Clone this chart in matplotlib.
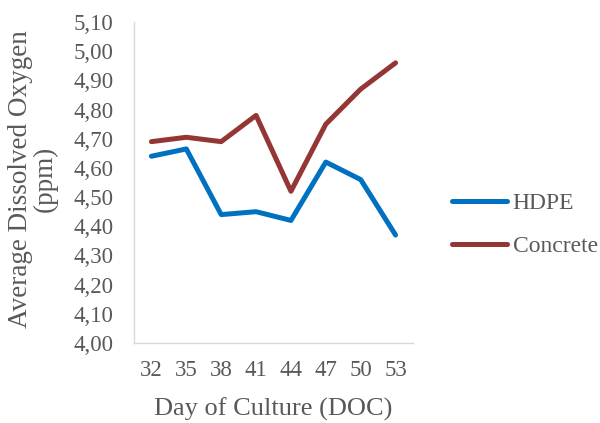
import matplotlib
matplotlib.use("Agg")
import matplotlib.pyplot as plt
from matplotlib.ticker import FuncFormatter

days = ["32", "35", "38", "41", "44", "47", "50", "53"]
hdpe = [4.64, 4.665, 4.44, 4.45, 4.42, 4.62, 4.56, 4.37]
concrete = [4.69, 4.705, 4.69, 4.78, 4.52, 4.75, 4.87, 4.96]
y_ticks = [4.0 + 0.1 * i for i in range(12)]

plt.rcParams['font.family'] = ['Liberation Serif', 'DejaVu Serif']
text_color = '#595959'

fig = plt.figure(figsize=(6.0, 4.23), dpi=100)
ax = fig.add_axes([134 / 600, 1 - 343 / 423, 279 / 600, 321 / 423])

x = list(range(len(days)))
l1, = ax.plot(x, hdpe, color='#0070C0', lw=3.6, solid_capstyle='round', solid_joinstyle='round', label='HDPE')
l2, = ax.plot(x, concrete, color='#943634', lw=3.6, solid_capstyle='round', solid_joinstyle='round', label='Concrete')

ax.set_xlim(-0.5, len(days) - 0.5)
ax.set_ylim(4.0, 5.1)
ax.set_yticks(y_ticks)
ax.yaxis.set_major_formatter(FuncFormatter(lambda v, p: f"{v:.2f}".replace('.', ',')))
ax.set_xticks(x)
ax.set_xticklabels(days)

for s in ['top', 'right']:
    ax.spines[s].set_visible(False)
for s in ['left', 'bottom']:
    ax.spines[s].set_color('#d9d9d9')
    ax.spines[s].set_linewidth(1.0)
ax.tick_params(axis='both', length=0, labelsize=16.5, colors=text_color)
ax.tick_params(axis='y', pad=15)
ax.tick_params(axis='x', pad=12)

fig.text(273 / 600, 1 - 409 / 423, 'Day of Culture (DOC)', fontsize=19, color=text_color,
         ha='center', va='center')
fig.text(33 / 600, 1 - 179 / 423, 'Average Dissolved Oxygen\n(ppm)', fontsize=19.5, color=text_color,
         ha='center', va='center', rotation=90, linespacing=0.95, multialignment='center')

fig.legend(handles=[l1, l2], loc='center left', bbox_to_anchor=(443 / 600, 1 - 225 / 423),
           frameon=False, fontsize=17, labelcolor=text_color, handlelength=2.3,
           handletextpad=0.25, labelspacing=0.92, borderaxespad=0.0)

fig.savefig('out.png', dpi=100)
